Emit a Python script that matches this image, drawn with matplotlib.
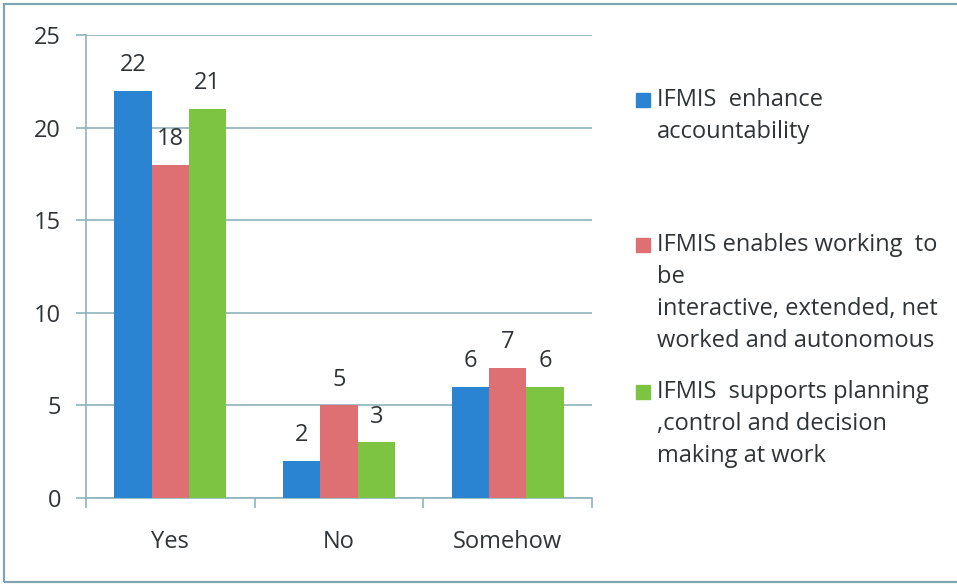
import numpy as np
from matplotlib import pyplot as plt
from matplotlib.patches import Rectangle

categories = ["Yes", "No", "Somehow"]
enhance = [22, 2, 6]
enables = [18, 5, 7]
supports = [21, 3, 6]

series_labels = [
    "IFMIS  enhance\naccountability",
    "IFMIS enables working  to\nbe\ninteractive, extended, net\nworked and autonomous",
    "IFMIS  supports planning\n,control and decision\nmaking at work",
]
colors = ["#2B84D2", "#DE6F72", "#7DC443"]
grid_col = "#8FB3BC"
text_col = "#2F3438"
fs = 17

plt.rcParams['font.family'] = ['Open Sans', 'DejaVu Sans']

fig = plt.figure(figsize=(9.57, 5.84), dpi=100)
W, H = 957, 584

def fx(px):
    return px / W

def fy(py):
    return 1 - py / H

# outer frame
fig.patches.append(Rectangle((fx(4), fy(582)), fx(960) - fx(4), fy(4) - fy(582),
                             transform=fig.transFigure, fill=False,
                             edgecolor="#7FA6B0", linewidth=1.6))

ax = fig.add_axes([fx(86), fy(498), fx(592) - fx(86), fy(35) - fy(498)])

x = np.arange(len(categories))
w = 0.222
all_series = [enhance, enables, supports]
for i, vals in enumerate(all_series):
    pos = x + (i - 1) * w
    ax.bar(pos, vals, width=w, color=colors[i], zorder=3)
    for p, v in zip(pos, vals):
        ax.annotate(str(v), (p, v), xytext=(0, 10), textcoords="offset points",
                    ha="center", va="bottom", fontsize=fs, color=text_col)

ax.set_xlim(-0.5, 2.5)
ax.set_ylim(0, 25)
ax.set_yticks([0, 5, 10, 15, 20, 25])
ax.yaxis.grid(True, color=grid_col, linewidth=1.2, zorder=0)
ax.set_axisbelow(True)

ax.set_xticks(x)
ax.set_xticklabels(categories)
ax.set_xticks([-0.5, 0.5, 1.5, 2.5], minor=True)
ax.tick_params(axis="x", which="major", length=0, pad=23, labelsize=fs, labelcolor=text_col)
ax.tick_params(axis="x", which="minor", length=7, color=grid_col, width=1.2)
ax.tick_params(axis="y", length=7, color=grid_col, width=1.2, pad=11,
               labelsize=fs, labelcolor=text_col)

for s in ["top", "right"]:
    ax.spines[s].set_visible(False)
for s in ["left", "bottom"]:
    ax.spines[s].set_color(grid_col)
    ax.spines[s].set_linewidth(1.2)

# legend drawn by hand: square marker plus wrapped label
line_h = 32
legend_tops = [100, 245, 392]
for c, lab, ytop in zip(colors, series_labels, legend_tops):
    fig.patches.append(Rectangle((fx(636), fy(ytop + 7)), fx(14), fx(14) * W / H,
                                 transform=fig.transFigure, color=c))
    for k, line in enumerate(lab.split("\n")):
        fig.text(fx(657), fy(ytop + k * line_h), line, fontsize=fs,
                 color=text_col, va="center", ha="left")

fig.savefig("out.png", dpi=100, facecolor="white")
